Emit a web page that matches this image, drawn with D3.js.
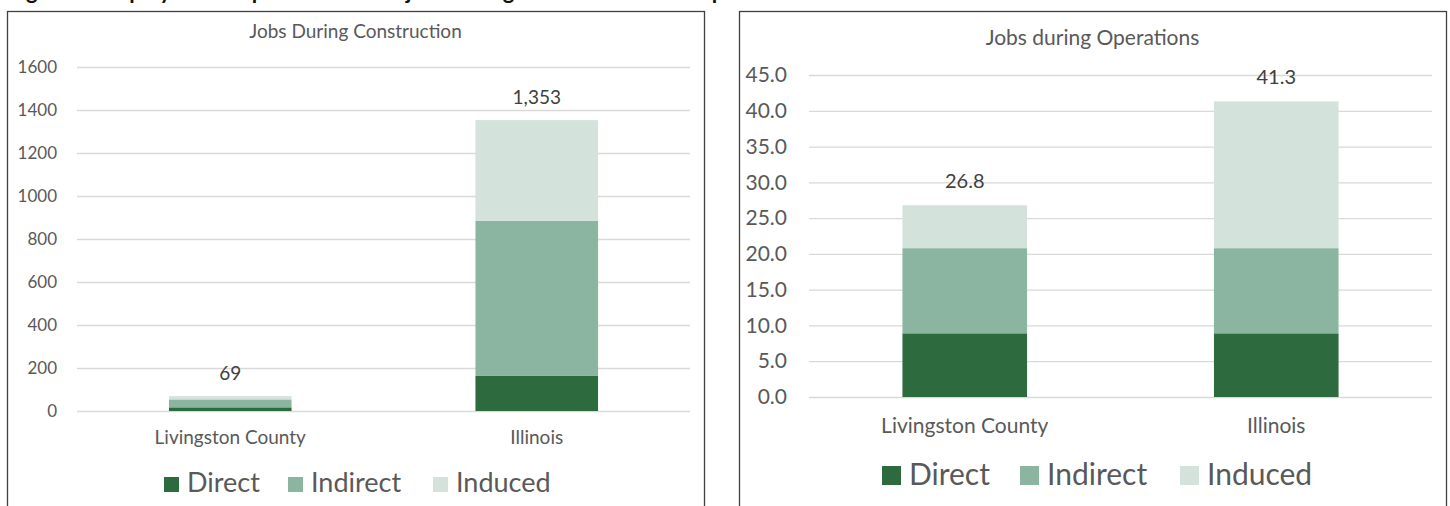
<!DOCTYPE html>
<html>
<head>
<meta charset="utf-8">
<script src="https://cdn.jsdelivr.net/npm/d3@7"></script>
<style>
  html, body { margin: 0; padding: 0; background: #fff; }
  svg { display: block; font-family: Lato, "Open Sans", sans-serif; }
</style>
</head>
<body>
<svg id="chart" width="1450" height="506"></svg>
<script>
// Regions shown on the x axis
const categories = ["Livingston County", "Illinois"];
const seriesNames = ["Direct", "Indirect", "Induced"];
const seriesColors = ["#2d6a3e", "#8bb5a1", "#d3e3dc"];

// Jobs during construction, per series
const constructionDirect = [17, 163];
const constructionIndirect = [37, 721];
const constructionInduced = [15, 469];
const constructionTotals = [69, 1353];
const constructionTicks = [0, 200, 400, 600, 800, 1000, 1200, 1400, 1600];

// Jobs during operations, per series
const operationsDirect = [8.9, 8.9];
const operationsIndirect = [11.9, 11.9];
const operationsInduced = [6.0, 20.5];
const operationsTotals = [26.8, 41.3];
const operationsTicks = [0, 5, 10, 15, 20, 25, 30, 35, 40, 45];

const svg = d3.select("#chart");
const textColor = "#595959";

// Figure caption, running off the top edge of the page
svg.append("text")
  .attr("x", 8).attr("y", -1)
  .attr("font-size", 22).attr("font-weight", "bold").attr("fill", "#111")
  .text("Figure 6. Employment Impacts of the Project During Construction and Operations");

function panel(cfg) {
  const g = svg.append("g");
  // frame
  g.append("rect")
    .attr("x", cfg.box[0] + 0.5).attr("y", cfg.box[1] + 0.5)
    .attr("width", cfg.box[2]).attr("height", cfg.box[3])
    .attr("fill", "#fff").attr("stroke", "#404040").attr("stroke-width", 1.3);

  const x = d3.scaleBand().domain(categories)
    .range([cfg.plot.left, cfg.plot.right]).paddingInner(0.6).paddingOuter(0.3);
  const y = d3.scaleLinear().domain([0, cfg.ticks[cfg.ticks.length - 1]])
    .range([cfg.plot.bottom, cfg.plot.top]);

  // title, centred on the frame
  g.append("text")
    .attr("x", cfg.box[0] + cfg.box[2] / 2).attr("y", cfg.titleY)
    .attr("text-anchor", "middle").attr("font-size", cfg.titleSize).attr("fill", textColor)
    .text(cfg.title);

  // gridlines
  g.append("g")
    .attr("transform", `translate(${cfg.plot.left},0)`)
    .call(d3.axisLeft(y).tickValues(cfg.ticks).tickSize(-(cfg.plot.right - cfg.plot.left)).tickFormat(""))
    .call(a => a.select(".domain").remove())
    .call(a => a.selectAll("line").attr("stroke", "#d9d9d9").attr("stroke-width", 1.3));

  // y tick labels
  g.append("g")
    .attr("transform", `translate(${cfg.labelX},0)`)
    .call(d3.axisLeft(y).tickValues(cfg.ticks).tickSize(0).tickPadding(0).tickFormat(cfg.tickFormat))
    .call(a => a.select(".domain").remove())
    .call(a => a.selectAll("text").attr("font-size", cfg.tickSize).attr("fill", textColor)
      .attr("font-family", "Lato, sans-serif"));

  // stacked bars
  const rows = categories.map((c, i) => ({
    cat: c, Direct: cfg.data[0][i], Indirect: cfg.data[1][i], Induced: cfg.data[2][i]
  }));
  const stacked = d3.stack().keys(seriesNames)(rows);
  stacked.forEach((layer, k) => {
    g.append("g").attr("fill", seriesColors[k])
      .selectAll("rect").data(layer).join("rect")
      .attr("x", d => x(d.data.cat))
      .attr("width", x.bandwidth())
      .attr("y", d => y(d[1]))
      .attr("height", d => y(d[0]) - y(d[1]));
  });

  // total labels
  g.selectAll(".total").data(cfg.totals).join("text")
    .attr("x", (d, i) => x(categories[i]) + x.bandwidth() / 2)
    .attr("y", d => y(d) - cfg.totalGap)
    .attr("text-anchor", "middle").attr("font-size", cfg.totalSize).attr("fill", "#404040")
    .text(cfg.totalFormat);

  // category labels
  g.selectAll(".cat").data(categories).join("text")
    .attr("x", d => x(d) + x.bandwidth() / 2)
    .attr("y", cfg.catY)
    .attr("text-anchor", "middle").attr("font-size", cfg.catSize).attr("fill", textColor)
    .text(d => d);

  // legend
  const lg = g.append("g");
  seriesNames.forEach((name, k) => {
    const lx = cfg.legendX[k];
    lg.append("rect")
      .attr("x", lx).attr("y", cfg.legendY - cfg.legendSq)
      .attr("width", cfg.legendSq).attr("height", cfg.legendSq)
      .attr("fill", seriesColors[k]);
    lg.append("text")
      .attr("x", lx + cfg.legendSq + 8).attr("y", cfg.legendY)
      .attr("font-size", cfg.legendSize).attr("fill", textColor)
      .text(name);
  });
}

panel({
  title: "Jobs During Construction",
  box: [7, 11, 697, 520],
  plot: { left: 77, right: 690, top: 67, bottom: 411 },
  labelX: 57,
  ticks: constructionTicks,
  tickFormat: d3.format("d"),
  tickSize: 17,
  titleY: 38, titleSize: 19,
  data: [constructionDirect, constructionIndirect, constructionInduced],
  totals: constructionTotals,
  totalFormat: d3.format(","),
  totalGap: 16, totalSize: 19,
  catY: 444, catSize: 19,
  legendX: [164, 288, 433],
  legendY: 492, legendSq: 15, legendSize: 27
});

panel({
  title: "Jobs during Operations",
  box: [739, 11, 707, 520],
  plot: { left: 809, right: 1432, top: 75, bottom: 397 },
  labelX: 787,
  ticks: operationsTicks,
  tickFormat: d3.format(".1f"),
  tickSize: 21,
  titleY: 45, titleSize: 21,
  data: [operationsDirect, operationsIndirect, operationsInduced],
  totals: operationsTotals,
  totalFormat: d3.format(".1f"),
  totalGap: 17, totalSize: 20,
  catY: 433, catSize: 21,
  legendX: [882, 1020, 1180],
  legendY: 485, legendSq: 19, legendSize: 30
});
</script>
</body>
</html>
